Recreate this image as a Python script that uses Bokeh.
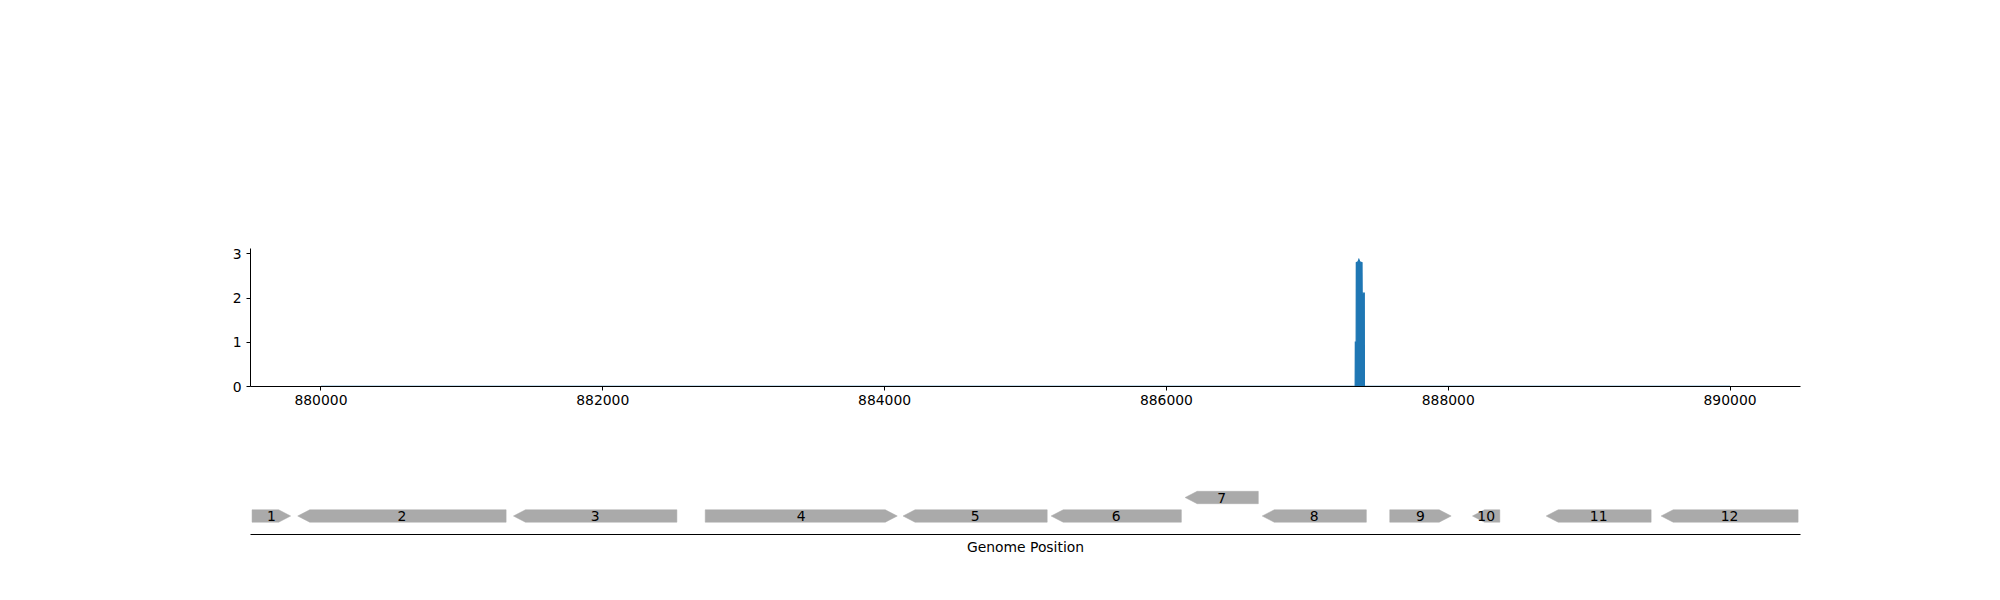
import numpy as np
from bokeh.plotting import figure
from bokeh.layouts import column
from bokeh.models import Range1d, FixedTicker, BasicTickFormatter, ColumnDataSource
from bokeh.core.properties import value
from bokeh.embed import file_html
from bokeh.resources import INLINE

# ---------------- data ----------------
# coverage track (genome position, depth)
cov_pos = [880000, 887340, 887341, 887347, 887348, 887360, 887366, 887372, 887388, 887389, 887404, 887405, 890000]
cov_val = [0.0, 0.0, 1.0, 1.0, 2.80, 2.82, 2.87, 2.82, 2.80, 2.11, 2.11, 0.0, 0.0]

x_ticks = [880000, 882000, 884000, 886000, 888000, 890000]
y_ticks = [0, 1, 2, 3]

# gene annotation track
gene_labels = ["1", "2", "3", "4", "5", "6", "7", "8", "9", "10", "11", "12"]
gene_starts = [879511, 879835, 881366, 882727, 884131, 885182, 886133, 886680, 887585, 888172, 888695, 889511]
gene_ends = [879785, 881314, 882526, 884090, 885154, 886106, 886652, 887419, 888021, 888366, 889440, 890483]
gene_strands = [1, -1, -1, 1, -1, -1, -1, -1, 1, -1, -1, -1]
gene_levels = [0, 0, 0, 0, 0, 0, 1, 0, 0, 0, 0, 0]

# ---------------- style ----------------
FONT = "DejaVu Sans"
FS = "13.9px"
BLUE = "#1f77b4"
GRAY = "#aaaaaa"
FRAME_W = 1550
X0, X1 = 879500, 890500

x_range = Range1d(X0, X1)

# ---------------- coverage plot ----------------
p1 = figure(frame_width=FRAME_W, frame_height=138, x_range=x_range, y_range=Range1d(0, 3.12),
            output_backend="svg", toolbar_location=None,
            min_border_left=250, min_border_right=10, min_border_top=248, min_border_bottom=54)
p1.outline_line_color = None
p1.grid.visible = False
p1.background_fill_color = "white"
p1.border_fill_color = "white"

src = ColumnDataSource(dict(x=cov_pos, y=cov_val))
p1.varea(x="x", y1=0, y2="y", source=src, fill_color=BLUE, fill_alpha=1.0)
p1.line(x="x", y="y", source=src, line_color=BLUE, line_width=1.3, line_join="miter")

for ax in (p1.xaxis[0], p1.yaxis[0]):
    ax.axis_line_color = "black"
    ax.axis_line_width = 1
    ax.major_tick_line_color = "black"
    ax.major_tick_out = 4
    ax.major_tick_in = 0
    ax.minor_tick_line_color = None
    ax.major_label_text_font = FONT
    ax.major_label_text_font_size = FS
    ax.major_label_text_color = "black"

p1.xaxis[0].ticker = FixedTicker(ticks=x_ticks)
p1.xaxis[0].formatter = BasicTickFormatter(use_scientific=False)
p1.xaxis[0].major_label_standoff = 4
p1.yaxis[0].ticker = FixedTicker(ticks=y_ticks)
p1.yaxis[0].major_label_standoff = 5

# ---------------- gene track ----------------
p2 = figure(frame_width=FRAME_W, frame_height=94, x_range=x_range, y_range=Range1d(-1, 94 / 18.5 - 1),
            output_backend="svg", toolbar_location=None,
            min_border_left=250, min_border_right=10, min_border_top=0, min_border_bottom=30)
p2.outline_line_color = None
p2.grid.visible = False
p2.yaxis.visible = False
p2.background_fill_color = "white"
p2.border_fill_color = "white"

px_per_bp = FRAME_W / (X1 - X0)
head_bp = 12 / px_per_bp
half_h = 0.335

xs, ys = [], []
for s, e, st, lv in zip(gene_starts, gene_ends, gene_strands, gene_levels):
    h = min(head_bp, e - s)
    if st > 0:
        xs.append([s, e - h, e, e - h, s])
        ys.append([lv - half_h, lv - half_h, lv, lv + half_h, lv + half_h])
    else:
        xs.append([e, s + h, s, s + h, e])
        ys.append([lv - half_h, lv - half_h, lv, lv + half_h, lv + half_h])

p2.patches(xs=xs, ys=ys, fill_color=GRAY, line_color=GRAY, line_width=0.5)

mids = [(s + e) / 2 for s, e in zip(gene_starts, gene_ends)]
p2.text(x=mids, y=gene_levels, text=gene_labels, text_align="center", text_baseline="middle",
        text_font=value(FONT), text_font_size=FS, text_color="black")

ax2 = p2.xaxis[0]
ax2.ticker = FixedTicker(ticks=[])
ax2.axis_line_color = "black"
ax2.axis_line_width = 1
ax2.major_tick_out = 0
ax2.major_tick_in = 0
ax2.minor_tick_line_color = None
ax2.axis_label = "Genome Position"
ax2.axis_label_text_font = FONT
ax2.axis_label_text_font_size = FS
ax2.axis_label_text_font_style = "normal"
ax2.axis_label_text_color = "black"
ax2.axis_label_standoff = 4

layout = column(p1, p2, spacing=0)
open("out.html", "w").write(file_html(layout, INLINE))
